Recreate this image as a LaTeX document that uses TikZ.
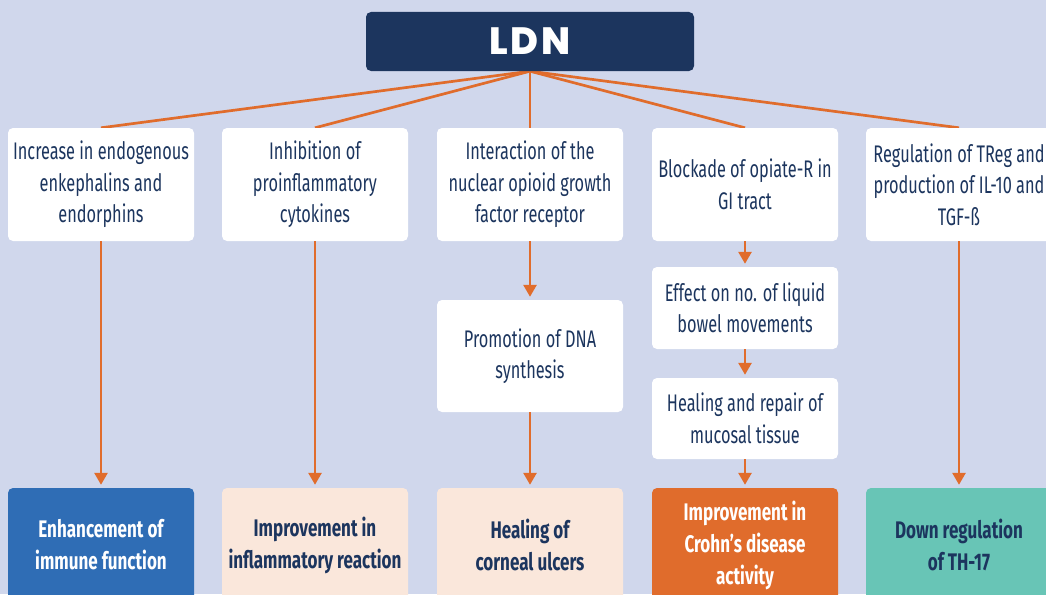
\documentclass[tikz,border=0pt]{standalone}
\usepackage{fontspec}
\setmainfont{Fira Sans}[FakeStretch=0.68]
\newfontfamily\boldfont{Fira Sans}[FakeStretch=0.71]
\newfontfamily\titlefont{Poppins ExtraBold}[LetterSpace=8]
\usetikzlibrary{arrows.meta}
\pgfdeclarelayer{back}
\pgfdeclarelayer{lines}
\pgfsetlayers{back,lines,main}
\definecolor{bg}{HTML}{D0D7EC}
\definecolor{navy}{HTML}{1C355E}
\definecolor{org}{HTML}{E06C2C}
\definecolor{blu}{HTML}{2F6DB5}
\definecolor{peach}{HTML}{FAE7DB}
\definecolor{tealc}{HTML}{68C5B6}
\begin{document}
\begin{tikzpicture}[x=1pt,y=-1pt,
  box/.style={fill=white, rounded corners=5pt, minimum width=186pt, inner sep=0pt,
    text=navy, font=\fontsize{24}{31.5}\selectfont, align=center},
  outbox/.style={rounded corners=5pt, minimum width=186pt, minimum height=114pt, inner sep=0pt,
    font=\boldfont\bfseries\fontsize{24}{32}\selectfont, align=center},
  ln/.style={draw=org, line width=2.7pt},
  arr/.style={draw=org, line width=2.7pt, -{Triangle[length=12pt,width=13pt]}, shorten >=3pt}]
\useasboundingbox (0,0) rectangle (1046,594);
\clip (0,0) rectangle (1046,594);
\begin{pgfonlayer}{back}
\fill[bg] (0,0) rectangle (1046,594);
\end{pgfonlayer}
% title
\node[fill=navy, rounded corners=5pt, minimum width=328pt, minimum height=59pt, inner sep=0pt, text=white]
  (ldn) at (530,41.5) {\titlefont\fontsize{38}{40}\selectfont LDN};
% top row
\node[box, minimum height=113pt] (t1) at (101,184.5) {Increase in endogenous\\enkephalins and\\endorphins};
\node[box, minimum height=113pt] (t2) at (315,184.5) {Inhibition of\\proinflammatory\\cytokines};
\node[box, minimum height=113pt] (t3) at (530,184.5) {Interaction of the\\nuclear opioid growth\\factor receptor};
\node[box, minimum height=113pt] (t4) at (745,184.5) {Blockade of opiate-R in\\GI tract};
\node[box, minimum height=113pt] (t5) at (959,184.5) {Regulation of TReg and\\production of IL-10 and\\TGF-ß};
% middle
\node[box, minimum height=112pt] (dna) at (530,356) {Promotion of DNA\\synthesis};
\node[box, minimum height=82pt] (eff) at (745,308) {Effect on no. of liquid\\bowel movements};
\node[box, minimum height=81pt] (heal) at (745,418.5) {Healing and repair of\\mucosal tissue};
% bottom
\node[outbox, fill=blu, text=white] (b1) at (101,545) {Enhancement of\\immune function};
\node[outbox, fill=peach, text=navy] (b2) at (315,545) {Improvement in\\inflammatory reaction};
\node[outbox, fill=peach, text=navy] (b3) at (530,545) {Healing of\\corneal ulcers};
\node[outbox, fill=org, text=white] (b4) at (745,545) {Improvement in\\Crohn’s disease\\activity};
\node[outbox, fill=tealc, text=navy] (b5) at (959,545) {Down regulation\\of TH-17};
% connectors from LDN (behind boxes)
\begin{pgfonlayer}{lines}
\foreach \t in {t1,t2,t3,t4,t5}
  \draw[ln] (ldn.south) -- (\t.north);
\end{pgfonlayer}
% arrows
\draw[arr] (t1) -- (b1);
\draw[arr] (t2) -- (b2);
\draw[arr] (t3) -- (dna);
\draw[arr] (dna) -- (b3);
\draw[arr] (t4) -- (eff);
\draw[arr] (eff) -- (heal);
\draw[arr] (heal) -- (b4);
\draw[arr] (t5) -- (b5);
\end{tikzpicture}
\end{document}
